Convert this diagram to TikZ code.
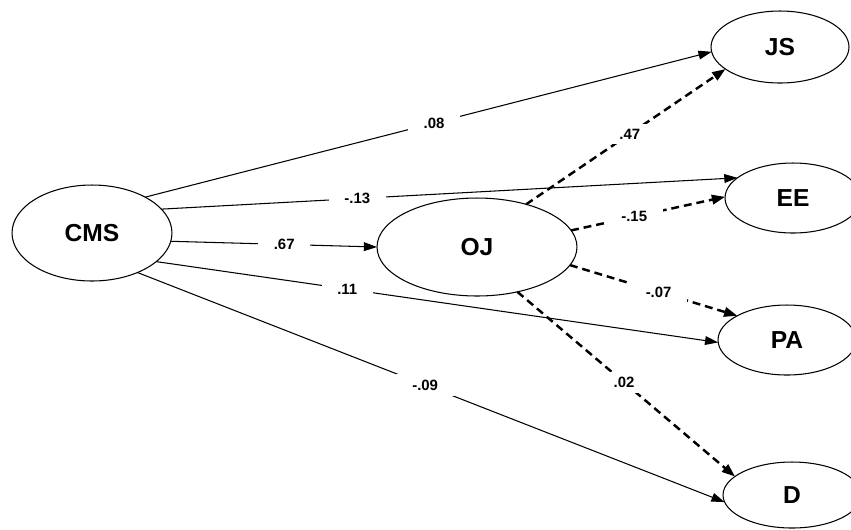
\documentclass[tikz,border=0pt]{standalone}
\usepackage{fontspec}
\setmainfont{Liberation Sans}
\usepackage{tikz}
\usetikzlibrary{arrows.meta, shapes.geometric}

\begin{document}
\begin{tikzpicture}[x=0.02cm, y=-0.02cm,
	latent/.style={draw, ellipse, line width=0.6pt, outer sep=0pt, inner sep=0pt, font=\bfseries\fontsize{14}{16}\selectfont},
	direct/.style={line width=0.6pt, -{Triangle[length=7.5pt, width=5pt]}},
	indirect/.style={line width=1.4pt, dash pattern=on 4.5pt off 2.8pt, -{Triangle[length=7.5pt, width=5.4pt]}},
	coef/.style={fill=white, inner xsep=9pt, inner ysep=3pt, font=\bfseries\fontsize{8.5}{10}\selectfont}]
	\useasboundingbox (0, 0) rectangle (851, 529);
	% Variables:
	\node[latent, minimum width=3.2cm, minimum height=1.92cm](CMS) at (92, 233){CMS};
	\node[latent, minimum width=4cm, minimum height=1.96cm](OJ) at (477, 247){OJ};
	\node[latent, minimum width=2.76cm, minimum height=1.44cm](JS) at (780, 47){JS};
	\node[latent, minimum width=2.72cm, minimum height=1.4cm](EE) at (793, 198){EE};
	\node[latent, minimum width=2.76cm, minimum height=1.4cm](PA) at (787, 340){PA};
	\node[latent, minimum width=2.76cm, minimum height=1.32cm](D) at (792, 495){D};
	% Direct paths:
	\draw[direct] (CMS.34) -- node[coef, pos=0.51]{.08} (JS.184);
	\draw[direct] (CMS.19) -- node[coef, pos=0.34]{-.13} (EE.160);
	\draw[direct] (CMS.-6) -- node[coef, pos=0.55]{.67} (OJ.180);
	\draw[direct] (CMS.-24) -- node[coef, pos=0.34]{.11} (PA.182);
	\draw[direct] (CMS.-41) -- node[coef, pos=0.49]{-.09} (D.186);
	% Paths through OJ:
	\draw[indirect] (OJ.41) -- node[coef, pos=0.52]{.47} (JS.202);
	\draw[indirect] (OJ.10) -- node[coef, pos=0.41]{-.15} (EE.179);
	\draw[indirect] (OJ.-11) -- node[coef, pos=0.53]{-.07} (PA.154);
	\draw[indirect] (OJ.-48) -- node[coef, pos=0.49]{.02} (D.162);
\end{tikzpicture}
\end{document}
